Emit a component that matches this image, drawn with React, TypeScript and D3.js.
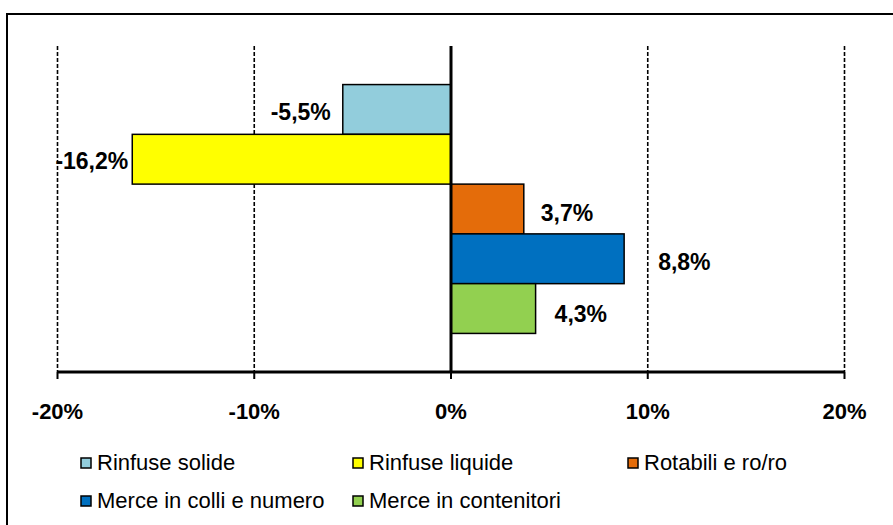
import React from "react";
import * as d3 from "d3";

const series = [
  "Rinfuse solide",
  "Rinfuse liquide",
  "Rotabili e ro/ro",
  "Merce in colli e numero",
  "Merce in contenitori",
];
const values = [-5.5, -16.2, 3.7, 8.8, 4.3];
const labels = ["-5,5%", "-16,2%", "3,7%", "8,8%", "4,3%"];
const colors = ["#92CDDC", "#FFFF00", "#E46C0A", "#0070C0", "#92D050"];
const ticks = [-20, -10, 0, 10, 20];
const tickLabels = ["-20%", "-10%", "0%", "10%", "20%"];
// label nudges (layout only)
const labelDx = [12, 4, 17, 34, 19];
const labelDy = [2, 1.5, 3.5, 3, 5.5];

const W = 893;
const H = 525;
const plotTop = 46;
const plotBottom = 372;

export default function App() {
  const x = d3.scaleLinear().domain([-20, 20]).range([57.5, 844.5]);
  const y = d3
    .scaleBand<string>()
    .domain(series)
    .range([plotTop, plotBottom])
    .paddingInner(0)
    .paddingOuter(0.775);
  const x0 = x(0);
  const legendPos = [
    { sx: 81, row: 0 },
    { sx: 353, row: 0 },
    { sx: 628, row: 0 },
    { sx: 81, row: 1 },
    { sx: 353, row: 1 },
  ];
  return (
    <svg
      width={W}
      height={H}
      style={{ position: "absolute", left: 0, top: 0, background: "#fff" }}
      fontFamily="'Liberation Sans', Arial, sans-serif"
    >
      <rect x={7} y={14} width={W + 20} height={H + 20} fill="#fff" stroke="#000" strokeWidth={2} />
      {ticks
        .filter((t) => t !== 0)
        .map((t) => (
          <line
            key={"g" + t}
            x1={x(t)}
            x2={x(t)}
            y1={plotTop}
            y2={plotBottom}
            stroke="#000"
            strokeWidth={1.6}
            strokeDasharray="4,2"
          />
        ))}
      {values.map((v, i) => {
        const s = series[i];
        const y0 = y(s)!;
        return (
          <rect
            key={s}
            x={Math.min(x(v), x0)}
            y={y0}
            width={Math.abs(x(v) - x0)}
            height={y.bandwidth()}
            fill={colors[i]}
            stroke="#000"
            strokeWidth={1.5}
          />
        );
      })}
      <line x1={x0} x2={x0} y1={plotTop} y2={plotBottom} stroke="#000" strokeWidth={3} />
      <line x1={x(-20)} x2={x(20)} y1={plotBottom} y2={plotBottom} stroke="#000" strokeWidth={3} />
      {ticks.map((t, i) => (
        <g key={"t" + t}>
          <line x1={x(t)} x2={x(t)} y1={plotBottom} y2={plotBottom + 7} stroke="#000" strokeWidth={2} />
          <text
            x={x(t)}
            y={418.5}
            textAnchor="middle"
            fontSize={22}
            fontWeight="bold"
            fill="#000"
          >
            {tickLabels[i]}
          </text>
        </g>
      ))}
      {values.map((v, i) => {
        const s = series[i];
        const cy = y(s)! + y.bandwidth() / 2 + labelDy[i];
        const neg = v < 0;
        return (
          <text
            key={"l" + s}
            x={neg ? x(v) - labelDx[i] : x(v) + labelDx[i]}
            y={cy}
            dy="0.36em"
            textAnchor={neg ? "end" : "start"}
            fontSize={23}
            fontWeight="bold"
            fill="#000"
          >
            {labels[i]}
          </text>
        );
      })}
      {series.map((s, i) => {
        const p = legendPos[i];
        const sy = 458 + p.row * 38;
        return (
          <g key={"lg" + s}>
            <rect x={p.sx} y={sy} width={10} height={10} fill={colors[i]} stroke="#000" strokeWidth={1.5} />
            <text x={p.sx + 16} y={sy + 12} fontSize={22} fill="#000">
              {s}
            </text>
          </g>
        );
      })}
    </svg>
  );
}
